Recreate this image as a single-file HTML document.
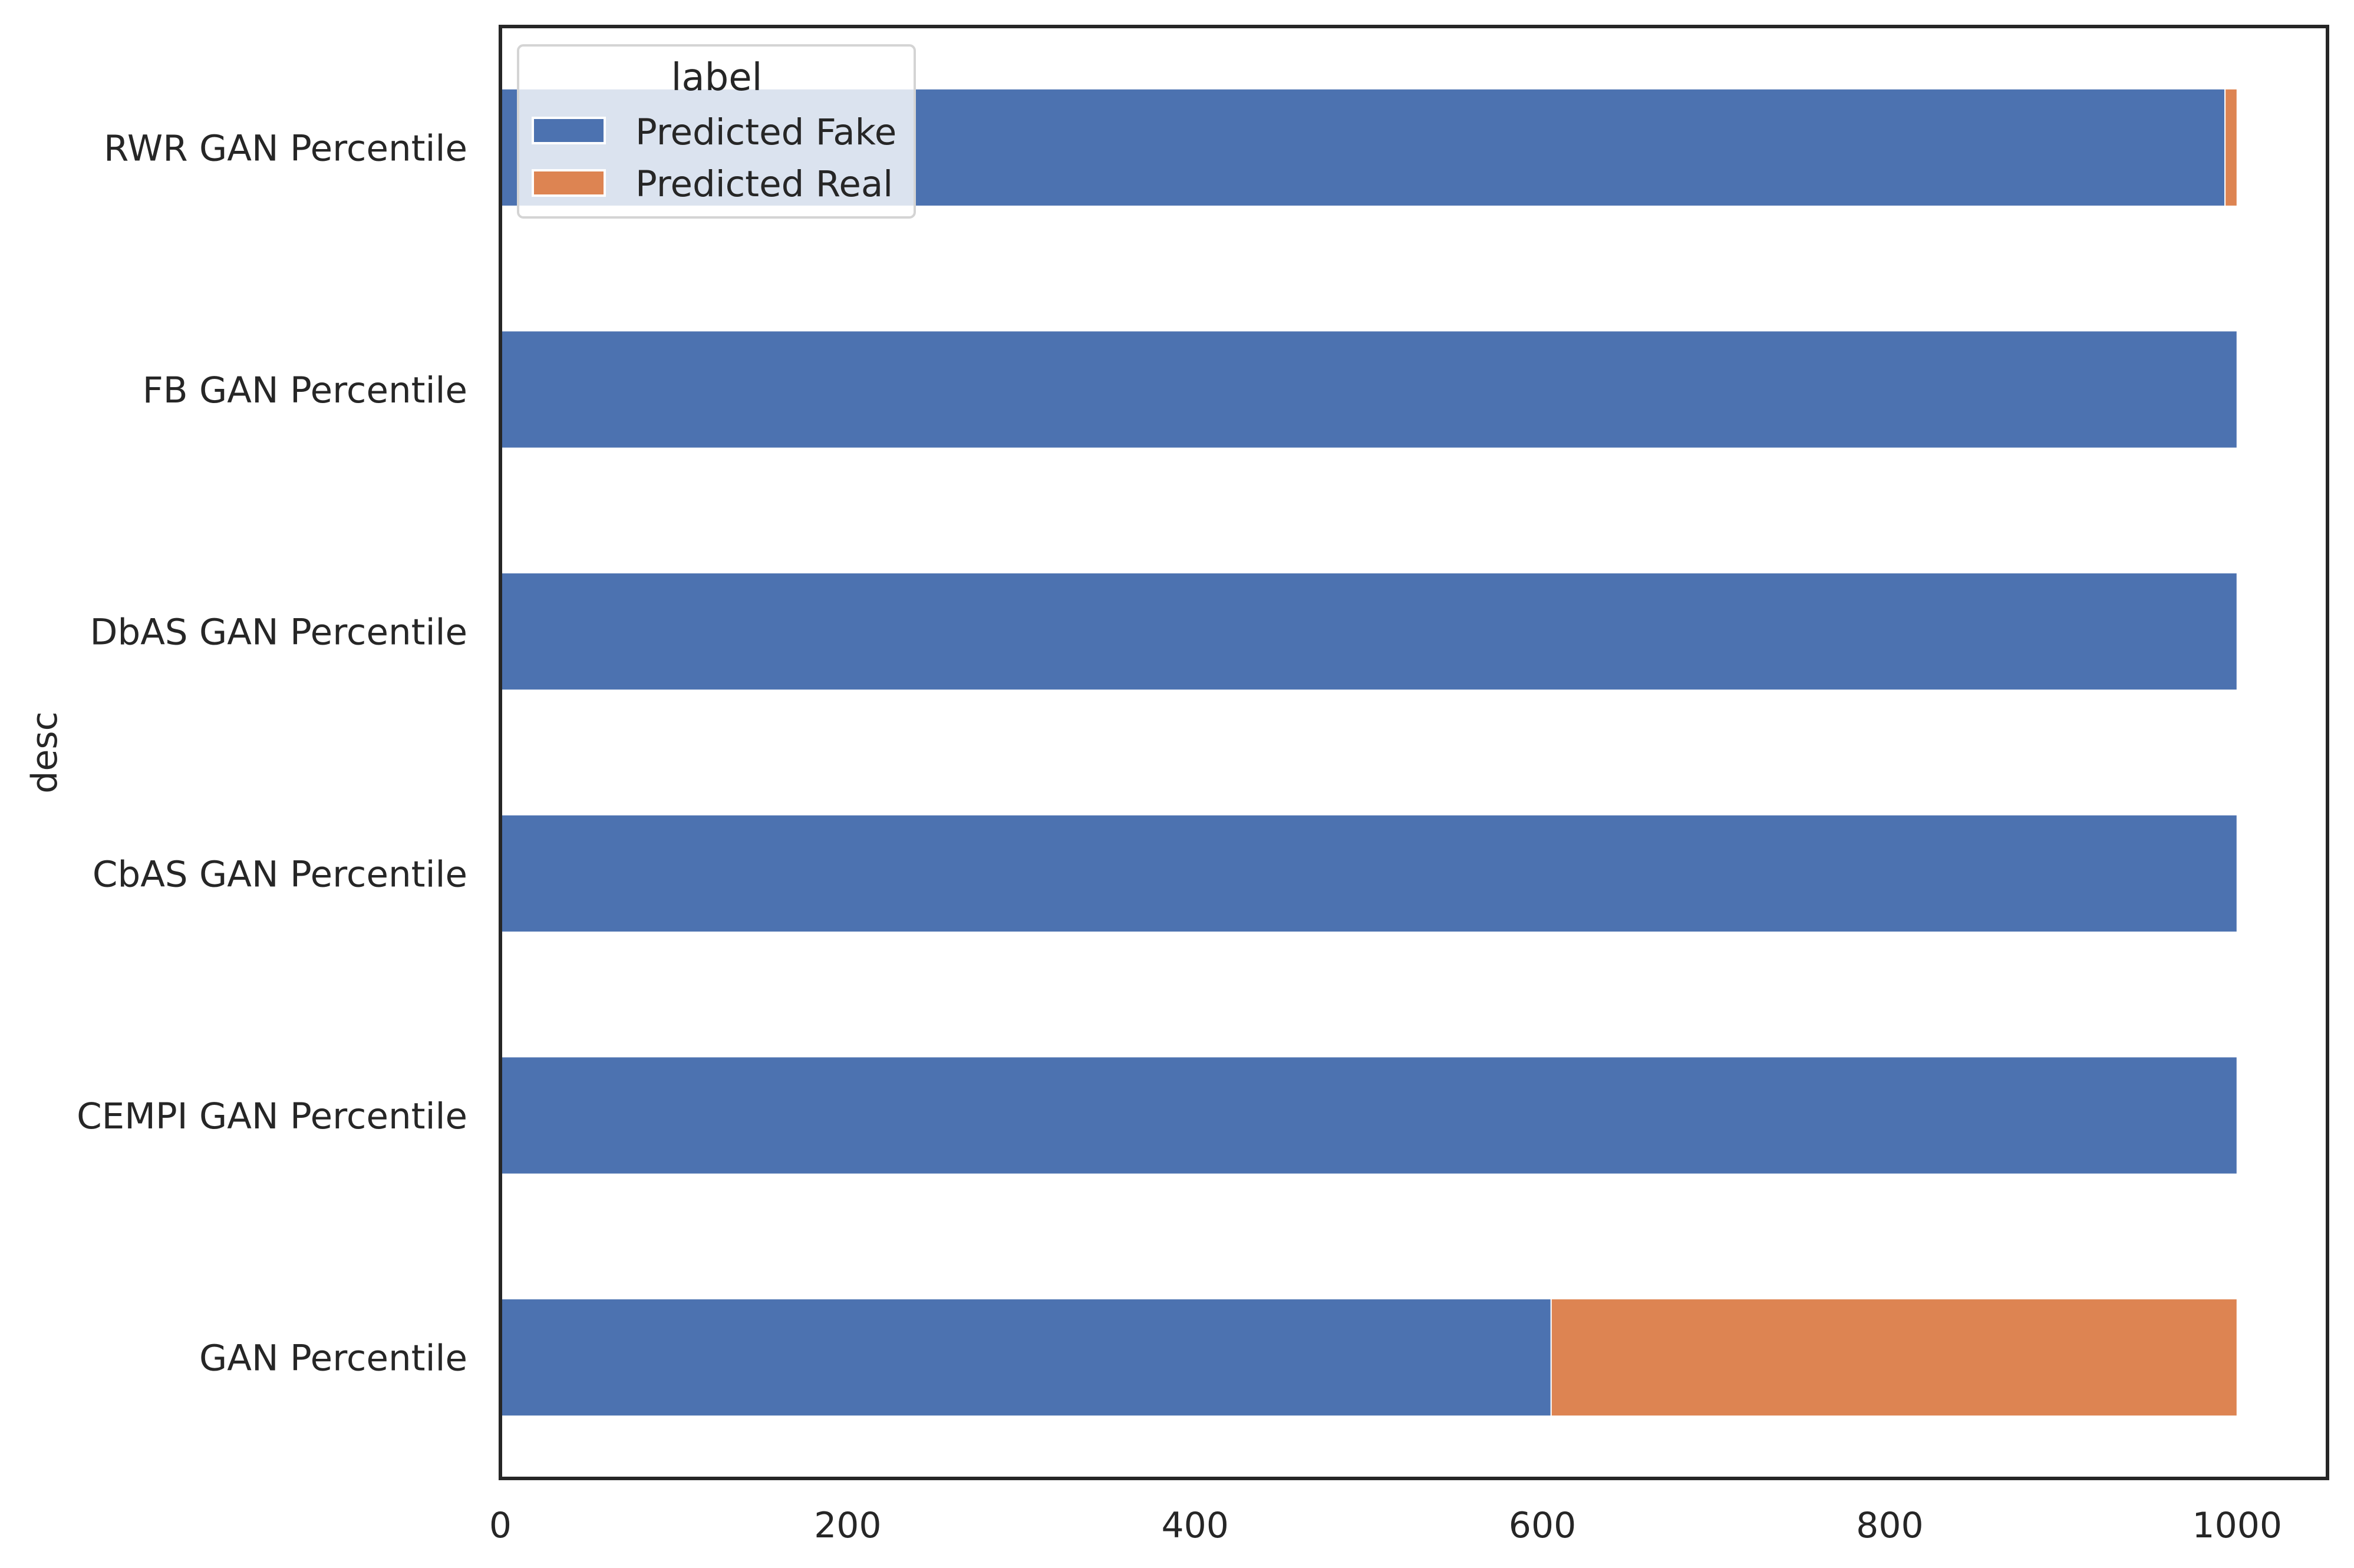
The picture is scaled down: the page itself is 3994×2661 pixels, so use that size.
<!DOCTYPE html>
<html><head><meta charset="utf-8"><style>
html,body{margin:0;padding:0;background:#fff;}
svg{display:block;}
text{font-family:"DejaVu Sans","Liberation Sans",sans-serif;fill:#262626;}
</style></head><body>
<svg id="chart" width="3994" height="2661" viewBox="0 0 3994 2661" xmlns="http://www.w3.org/2000/svg">
<rect width="3994" height="2661" fill="#fff"/>
<g id="bars"></g>
<g id="yticks"></g>
<g id="xticks"></g>
<rect x="849" y="45" width="3100" height="2464" fill="none" stroke="#262626" stroke-width="6"/>
<text x="76" y="1277" font-size="60" text-anchor="middle" transform="rotate(-90 76 1277)" dominant-baseline="central">desc</text>
<g>
<rect x="879" y="77" width="673" height="292" rx="9" fill="#ffffff" fill-opacity="0.8" stroke="#d4d4d4" stroke-width="4"/>
<text x="1216" y="153" font-size="64" text-anchor="middle">label</text>
<g>
<rect x="904" y="200" width="122" height="43" fill="#4c72b0" stroke="#fff" stroke-width="4"/>
<text x="1078" y="245" font-size="61">Predicted Fake</text>
</g>
<g>
<rect x="904" y="289" width="122" height="43" fill="#dd8452" stroke="#fff" stroke-width="4"/>
<text x="1078" y="333" font-size="61">Predicted Real</text>
</g>
</g>
</svg>
<script>
const categories = ["RWR GAN Percentile","FB GAN Percentile","DbAS GAN Percentile","CbAS GAN Percentile","CEMPI GAN Percentile","GAN Percentile"];
const predictedFake = [993, 1000, 1000, 1000, 1000, 605];
const predictedReal = [7, 0, 0, 0, 0, 395];
const xTicks = [0, 200, 400, 600, 800, 1000];

const NS = "http://www.w3.org/2000/svg";
const X0 = 849, X1 = 3949, Y0 = 45, Y1 = 2509, XMAX = 1052;
const xs = v => X0 + (v / XMAX) * (X1 - X0);
const band = (Y1 - Y0) / categories.length;
const yc = i => Y0 + band * (i + 0.5);
const barH = band * 0.485;

function mk(tag, attrs, parent) {
  const el = document.createElementNS(NS, tag);
  for (const k in attrs) el.setAttribute(k, attrs[k]);
  parent.appendChild(el);
  return el;
}
const gb = document.getElementById('bars');
const gy = document.getElementById('yticks');
const gx = document.getElementById('xticks');

categories.forEach((c, i) => {
  const top = yc(i) - barH / 2;
  const f = predictedFake[i], r = predictedReal[i];
  if (f > 0) {
    const b = mk('rect', {x: xs(0), y: top, width: xs(f) - xs(0), height: barH, fill: '#4c72b0', stroke: '#fff', 'stroke-width': 2}, gb);
    
    
  }
  if (r > 0) {
    const b = mk('rect', {x: xs(f), y: top, width: xs(f + r) - xs(f), height: barH, fill: '#dd8452', stroke: '#fff', 'stroke-width': 2}, gb);
    
    
  }
  const t = mk('text', {x: 793, y: yc(i) + 22, 'font-size': 61, 'text-anchor': 'end'}, gy);
  t.textContent = c;
  
  
});

xTicks.forEach(v => {
  const t = mk('text', {x: xs(v), y: 2609, 'font-size': 60, 'text-anchor': 'middle'}, gx);
  t.textContent = v;
  
  
});
</script>
</body></html>
